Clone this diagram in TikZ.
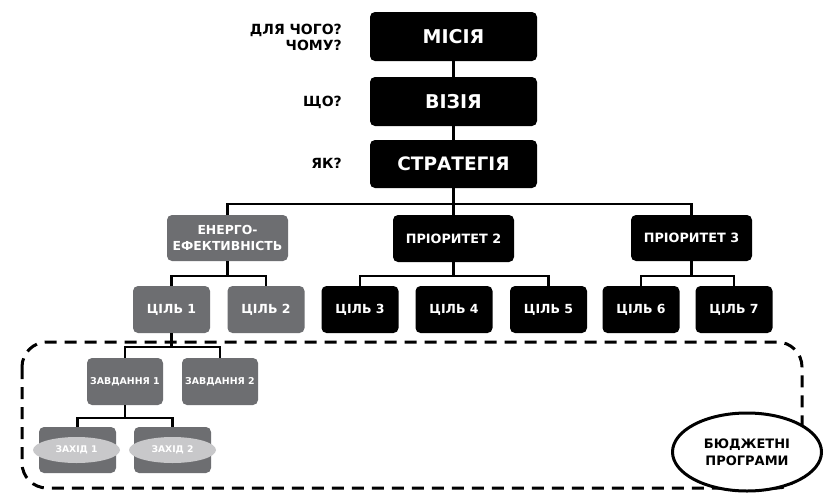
\documentclass[tikz,border=0pt]{standalone}
\usepackage{fontspec}
\setmainfont{DejaVu Sans}
\usetikzlibrary{shapes.geometric}
\definecolor{gbox}{HTML}{6D6E71}
\definecolor{gell}{HTML}{C8C8CA}
\tikzset{
  blk/.style={rectangle, rounded corners=5pt, fill=black, text=white, font=\bfseries, inner sep=0pt, align=center},
  gry/.style={rectangle, rounded corners=5pt, fill=gbox, text=white, font=\bfseries, inner sep=0pt, align=center},
  lbl/.style={font=\bfseries\fontsize{14}{16}\selectfont, align=right, anchor=east, inner sep=0pt},
  con/.style={line width=2.6pt},
}
\begin{document}
\begin{tikzpicture}[x=1pt,y=-1pt]
\useasboundingbox (0,0) rectangle (827,493);
\fill[white] (0,0) rectangle (827,493);
% dashed frame
\draw[line width=3pt, dash pattern=on 12pt off 8pt, rounded corners=25pt] (22,342) rectangle (802,488);
% top column
\node[blk, minimum width=167pt, minimum height=49pt, font=\bfseries\fontsize{19}{22}\selectfont] (mis) at (453.5,36.5) {МІСІЯ};
\node[blk, minimum width=167pt, minimum height=49pt, font=\bfseries\fontsize{19}{22}\selectfont] (viz) at (453.5,101.5) {ВІЗІЯ};
\node[blk, minimum width=167pt, minimum height=48pt, font=\bfseries\fontsize{18.5}{22}\selectfont] (str) at (453.5,164) {СТРАТЕГІЯ};
\node[lbl] (q1) at (342,37) {ДЛЯ ЧОГО?\\ЧОМУ?};
\node[lbl] (q2) at (342,102) {ЩО?};
\node[lbl] (q3) at (342,163) {ЯК?};
% priorities
\node[gry, minimum width=121pt, minimum height=46pt, font=\bfseries\fontsize{12.4}{16}\selectfont] (en) at (227.5,238) {ЕНЕРГО-\\ЕФЕКТИВНІСТЬ};
\node[blk, minimum width=121pt, minimum height=47pt, font=\bfseries\fontsize{12.8}{15}\selectfont] (p2) at (453.5,238.5) {ПРІОРИТЕТ 2};
\node[blk, minimum width=121pt, minimum height=46pt, font=\bfseries\fontsize{12.8}{15}\selectfont] (p3) at (691.5,238) {ПРІОРИТЕТ 3};
% goals
\tikzset{goal/.style={minimum width=77pt, minimum height=47pt, font=\bfseries\fontsize{12.5}{14}\selectfont}}
\node[gry, goal] (c1) at (171.5,309.5) {ЦІЛЬ 1};
\node[gry, goal] (c2) at (266,309.5) {ЦІЛЬ 2};
\node[blk, goal] (c3) at (360,309.5) {ЦІЛЬ 3};
\node[blk, goal] (c4) at (454,309.5) {ЦІЛЬ 4};
\node[blk, goal] (c5) at (548.5,309.5) {ЦІЛЬ 5};
\node[blk, goal] (c6) at (641,309.5) {ЦІЛЬ 6};
\node[blk, goal] (c7) at (734,309.5) {ЦІЛЬ 7};
% tasks
\tikzset{task/.style={minimum width=76pt, minimum height=47pt, font=\bfseries\fontsize{9.4}{11}\selectfont}}
\node[gry, task] (t1) at (125,381.5) {ЗАВДАННЯ 1};
\node[gry, task] (t2) at (220,381.5) {ЗАВДАННЯ 2};
% measures
\node[gry, minimum width=77pt, minimum height=46pt] (m1r) at (77.5,450) {};
\node[gry, minimum width=77pt, minimum height=46pt] (m2r) at (172.5,450) {};
\node[ellipse, fill=gell, minimum width=87pt, minimum height=26pt, inner sep=0pt, text=white, font=\bfseries\fontsize{9.2}{10}\selectfont] (m1) at (76.5,450) {ЗАХІД 1};
\node[ellipse, fill=gell, minimum width=87pt, minimum height=26pt, inner sep=0pt, text=white, font=\bfseries\fontsize{9.2}{10}\selectfont] (m2) at (172.5,450) {ЗАХІД 2};
% budget
\node[ellipse, draw=black, line width=3pt, fill=white, minimum width=149pt, minimum height=78pt, inner sep=0pt, align=center, font=\bfseries\fontsize{13}{17}\selectfont] (bp) at (747,452) {БЮДЖЕТНІ\\ПРОГРАМИ};
% connectors
\draw[con] (mis) -- (viz);
\draw[con] (viz) -- (str);
\draw[con] (str) -- (p2);
\coordinate (hub) at (453.5,204);
\draw[con] (en.north) |- (hub) -| (p3.north);
\draw[con] (en.south) -- ++(0,15);
\draw[con] (c1.north) -- ++(0,-10) -| (c2.north);
\draw[con] (p2.south) -- ++(0,14);
\draw[con] (c3.north) -- ++(0,-10) -| (c5.north);
\draw[con] (p3.south) -- ++(0,15);
\draw[con] (c6.north) -- ++(0,-10) -| (c7.north);
\coordinate (j1) at (171.5,347);
\draw[con] (c1.south) -- (j1);
\draw[con] (t1.north) -- ++(0,-11) -| (t2.north);
\coordinate (j2) at (125,418);
\draw[con] (t1.south) -- (j2);
\draw[con] (m1r.north) -- ++(0,-9) -| (m2r.north);
\end{tikzpicture}
\end{document}
